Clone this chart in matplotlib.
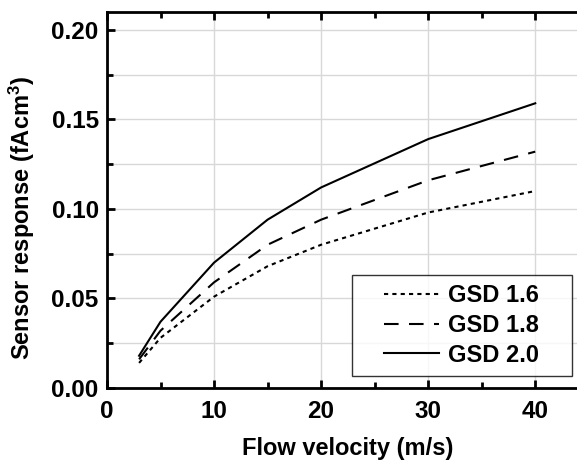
import matplotlib
matplotlib.use("Agg")
import matplotlib.pyplot as plt
from matplotlib.ticker import MultipleLocator

plt.rcParams['font.family'] = ['Liberation Sans', 'DejaVu Sans']
plt.rcParams['font.weight'] = 'bold'
plt.rcParams['mathtext.fontset'] = 'custom'
plt.rcParams['mathtext.rm'] = 'Liberation Sans:bold'
plt.rcParams['mathtext.bf'] = 'Liberation Sans:bold'
plt.rcParams['mathtext.default'] = 'bf'

# flow velocity (m/s) and sensor response for each GSD
velocity = [3, 5, 10, 15, 20, 30, 40]
gsd_16 = [0.014, 0.028, 0.051, 0.068, 0.080, 0.098, 0.110]
gsd_18 = [0.016, 0.032, 0.059, 0.080, 0.094, 0.116, 0.132]
gsd_20 = [0.018, 0.037, 0.070, 0.094, 0.112, 0.139, 0.159]
labels = ['GSD 1.6', 'GSD 1.8', 'GSD 2.0']

fig = plt.figure(figsize=(5.77, 4.61), dpi=100)
ax = fig.add_axes([0.1854, 0.1584, 0.835, 0.8156])

ax.plot(velocity, gsd_16, color='black', lw=1.5, linestyle=(0, (2, 2)), label=labels[0])
ax.plot(velocity, gsd_18, color='black', lw=1.5, linestyle=(0, (7, 5)), label=labels[1])
ax.plot(velocity, gsd_20, color='black', lw=1.5, linestyle='-', label=labels[2])

ax.set_xlim(0, 45)
ax.set_ylim(0, 0.21)
ax.xaxis.set_major_locator(MultipleLocator(10))
ax.xaxis.set_minor_locator(MultipleLocator(5))
ax.yaxis.set_major_locator(MultipleLocator(0.05))
ax.yaxis.set_minor_locator(MultipleLocator(0.025))
ax.yaxis.set_major_formatter(plt.FuncFormatter(lambda v, p: f"{v:.2f}"))

ax.grid(True, which='major', axis='x', color='#d8d8d8', lw=1)
ax.grid(True, which='both', axis='y', color='#d8d8d8', lw=1)
ax.set_axisbelow(True)

for s in ax.spines.values():
    s.set_linewidth(2)
ax.tick_params(which='both', direction='in', top=True, right=True, width=2,
               labelsize=17.5)
ax.tick_params(axis='x', which='both', pad=9)
ax.tick_params(axis='y', which='both', pad=6)
ax.tick_params(which='major', length=6)
ax.tick_params(which='minor', length=4)

ax.set_xlabel('Flow velocity (m/s)', fontsize=17, fontweight='bold', labelpad=10)
ax.set_ylabel(r'Sensor response (fAcm$^{3}$)', fontsize=17, fontweight='bold')
ax.yaxis.set_label_coords(-0.145, 0.452)

leg = ax.legend(loc='lower right', bbox_to_anchor=(0.917, 0.032), fontsize=17,
                frameon=True, fancybox=False, edgecolor='black', handlelength=2.33,
                handletextpad=0.38, borderpad=0.4, labelspacing=0.28,
                borderaxespad=0)
frame = leg.get_frame()
frame.set_linewidth(1)
# widen the frame sideways only
frame.set_boxstyle('square', pad=0.98)
frame.set_mutation_aspect(0.01)

fig.savefig('out.png', dpi=100)
